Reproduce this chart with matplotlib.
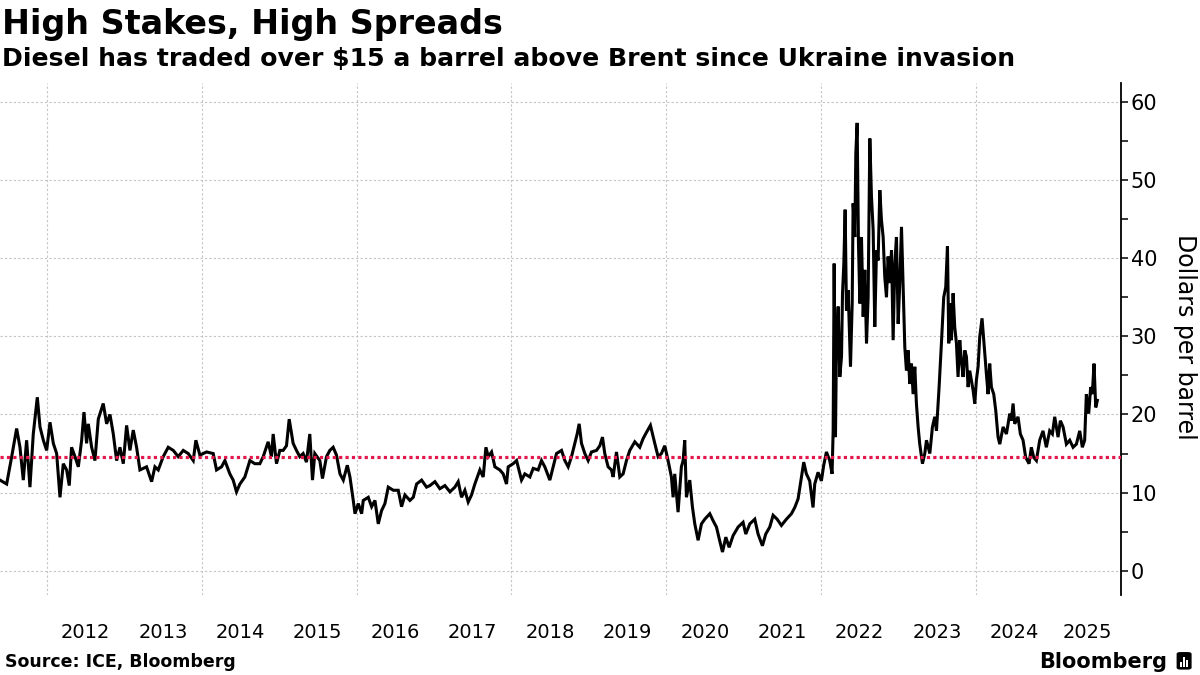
import matplotlib
matplotlib.use("Agg")
import matplotlib.pyplot as plt
from matplotlib.ticker import MultipleLocator, FixedLocator, NullFormatter, FixedFormatter
from matplotlib.patches import FancyBboxPatch, Rectangle

# ---- data (decimal year, $/bbl) ----
dates = [
    2011.393, 2011.479, 2011.544, 2011.608, 2011.651, 2011.694, 2011.737, 2011.780, 2011.823, 2011.875,
    2011.910, 2011.953, 2011.996, 2012.039, 2012.082, 2012.125, 2012.168, 2012.211, 2012.254, 2012.288,
    2012.318, 2012.362, 2012.405, 2012.448, 2012.478, 2012.512, 2012.534, 2012.577, 2012.620, 2012.663,
    2012.727, 2012.771, 2012.814, 2012.857, 2012.900, 2012.943, 2012.986, 2013.029, 2013.072, 2013.115,
    2013.158, 2013.201, 2013.287, 2013.352, 2013.395, 2013.438, 2013.502, 2013.567, 2013.632, 2013.696,
    2013.761, 2013.825, 2013.890, 2013.924, 2013.976, 2014.062, 2014.148, 2014.191, 2014.256, 2014.299,
    2014.363, 2014.406, 2014.449, 2014.493, 2014.557, 2014.622, 2014.686, 2014.751, 2014.794, 2014.858,
    2014.901, 2014.923, 2014.966, 2015.009, 2015.052, 2015.095, 2015.130, 2015.181, 2015.224, 2015.267,
    2015.310, 2015.353, 2015.396, 2015.431, 2015.461, 2015.526, 2015.560, 2015.612, 2015.655, 2015.698,
    2015.741,
    2015.786, 2015.829, 2015.881, 2015.915, 2015.958, 2015.980, 2016.023, 2016.066, 2016.087, 2016.152,
    2016.195, 2016.238, 2016.281, 2016.324, 2016.367, 2016.410, 2016.475, 2016.539, 2016.582, 2016.625,
    2016.690, 2016.733, 2016.776, 2016.841, 2016.905, 2016.948, 2017.013, 2017.077, 2017.142, 2017.207,
    2017.271, 2017.314, 2017.357, 2017.400, 2017.443, 2017.486, 2017.529, 2017.594, 2017.637, 2017.672,
    2017.702, 2017.745, 2017.788, 2017.852, 2017.895, 2017.938, 2017.960, 2018.024, 2018.068, 2018.132,
    2018.175, 2018.240, 2018.283, 2018.347, 2018.390, 2018.433, 2018.498, 2018.541, 2018.584, 2018.649,
    2018.692, 2018.735, 2018.778, 2018.821, 2018.851, 2018.877, 2018.907, 2018.950, 2018.993, 2019.036,
    2019.101, 2019.144, 2019.178, 2019.208, 2019.251, 2019.294, 2019.316, 2019.359, 2019.402, 2019.445,
    2019.488, 2019.531, 2019.596, 2019.660, 2019.703, 2019.746, 2019.798, 2019.854, 2019.897, 2019.940,
    2019.983, 2020.026, 2020.069, 2020.091, 2020.112, 2020.155, 2020.198, 2020.220, 2020.241, 2020.263,
    2020.306, 2020.340, 2020.371, 2020.414,
    2020.457, 2020.500, 2020.565, 2020.608, 2020.651, 2020.694, 2020.729, 2020.772, 2020.815, 2020.866,
    2020.931, 2020.995, 2021.030, 2021.082, 2021.146, 2021.189, 2021.245, 2021.288, 2021.340, 2021.383,
    2021.435, 2021.490, 2021.555, 2021.620, 2021.663, 2021.706, 2021.749, 2021.779, 2021.813, 2021.856,
    2021.899, 2021.921, 2021.964, 2022.007, 2022.037, 2022.072, 2022.115, 2022.145,
    2022.159, 2022.172, 2022.189, 2022.202, 2022.224, 2022.245, 2022.267, 2022.280, 2022.297, 2022.314,
    2022.331, 2022.353, 2022.383, 2022.405, 2022.417, 2022.439, 2022.452, 2022.469, 2022.486, 2022.504,
    2022.525, 2022.547, 2022.568, 2022.590, 2022.611, 2022.633, 2022.654, 2022.676, 2022.697, 2022.719,
    2022.740, 2022.762, 2022.783, 2022.805, 2022.826, 2022.848, 2022.869, 2022.891, 2022.913, 2022.934,
    2022.956, 2022.977, 2022.999, 2023.020, 2023.042, 2023.063, 2023.085, 2023.106, 2023.128, 2023.149,
    2023.171, 2023.192, 2023.214, 2023.235, 2023.257, 2023.278, 2023.313, 2023.343, 2023.365, 2023.408,
    2023.442, 2023.472, 2023.494, 2023.528, 2023.558, 2023.588, 2023.614, 2023.636, 2023.653,
    2023.666, 2023.687, 2023.709, 2023.730, 2023.752, 2023.773, 2023.795, 2023.816, 2023.838, 2023.860,
    2023.881, 2023.903, 2023.924, 2023.967, 2023.989, 2024.010, 2024.032, 2024.053, 2024.083, 2024.118,
    2024.139, 2024.161, 2024.182, 2024.204, 2024.234, 2024.260, 2024.290, 2024.312, 2024.355, 2024.398,
    2024.441, 2024.462, 2024.484, 2024.505, 2024.548, 2024.578, 2024.613, 2024.647, 2024.690, 2024.720,
    2024.751, 2024.785, 2024.828, 2024.871, 2024.914, 2024.957, 2024.992, 2025.022, 2025.065, 2025.095,
    2025.130, 2025.173, 2025.216, 2025.259, 2025.302, 2025.345, 2025.379, 2025.409, 2025.431, 2025.461,
    2025.487, 2025.508, 2025.530, 2025.552, 2025.573,
]
spread = [
    11.6, 11.1, 14.6, 18.2, 15.8, 11.6, 16.7, 10.7, 17.5, 22.2,
    18.4, 16.7, 15.4, 19.0, 16.3, 15.0, 9.4, 13.7, 12.9, 10.9,
    15.8, 14.6, 13.3, 16.7, 20.3, 16.3, 18.8, 15.8, 14.1, 19.4,
    21.4, 18.8, 20.0, 17.5, 14.1, 15.8, 13.7, 18.6, 15.4, 18.0,
    15.8, 12.9, 13.3, 11.4, 13.3, 12.9, 14.6, 15.8, 15.4, 14.6,
    15.4, 15.0, 14.1, 16.7, 14.8, 15.2, 15.0, 12.9, 13.3, 14.1,
    12.4, 11.6, 10.1, 11.1, 12.0, 14.1, 13.7, 13.7, 14.6, 16.5,
    14.6, 17.5, 13.7, 15.4, 15.4, 16.0, 19.4, 16.3, 15.4, 14.6,
    15.0, 13.9, 17.5, 11.6, 15.0, 14.1, 11.8, 14.6, 15.4, 15.8,
    14.8,
    12.4, 11.6, 13.5, 12.0, 9.0, 7.3, 8.6, 7.3, 9.0, 9.4,
    8.2, 9.0, 6.0, 7.7, 8.6, 10.7, 10.3, 10.3, 8.2, 9.7,
    9.0, 9.4, 11.1, 11.6, 10.7, 10.9, 11.4, 10.5, 10.9, 10.1,
    10.7, 11.4, 9.4, 10.3, 8.8, 9.7, 11.1, 12.9, 12.0, 15.8,
    14.6, 15.2, 13.3, 12.9, 12.4, 11.1, 13.3, 13.7, 14.1, 11.6,
    12.4, 12.0, 13.1, 12.9, 14.1, 13.3, 11.6, 13.3, 15.0, 15.4,
    14.1, 13.3, 14.6, 16.3, 17.5, 18.8, 16.3, 15.0, 14.1, 15.2,
    15.4, 16.0, 17.1, 15.0, 13.3, 12.9, 12.0, 15.2, 12.0, 12.4,
    14.1, 15.4, 16.5, 15.8, 16.9, 17.7, 18.6, 16.3, 14.6, 15.0,
    16.0, 14.1, 12.0, 9.4, 12.4, 7.5, 13.3, 14.1, 16.7, 9.4,
    11.6, 8.2, 6.0, 3.9,
    6.0, 6.6, 7.3, 6.4, 5.6, 3.8, 2.4, 4.3, 3.0, 4.5,
    5.6, 6.2, 4.7, 6.0, 6.6, 4.7, 3.2, 4.7, 5.6, 7.1,
    6.6, 5.8, 6.6, 7.3, 8.1, 9.2, 12.0, 13.9, 12.4, 11.5,
    8.1, 11.1, 12.6, 11.5, 13.5, 15.2, 14.1, 12.4,
    17.9, 39.3, 17.1, 29.1, 33.8, 24.8, 27.4, 35.5, 39.3, 46.2,
    33.3, 35.9, 26.1, 34.2, 47.0, 42.7, 53.4, 57.3, 41.9, 34.2,
    42.7, 32.5, 38.5, 29.1, 35.0, 55.3, 47.9, 43.6, 31.2, 41.0,
    39.7, 48.7, 44.9, 42.7, 37.6, 35.0, 40.2, 36.8, 41.0, 29.5,
    39.3, 42.7, 31.6, 36.8, 44.0, 36.3, 28.6, 25.6, 28.2, 23.9,
    26.5, 22.6, 26.1, 21.4, 18.4, 16.2, 13.7, 15.0, 16.7, 15.0,
    18.4, 19.7, 17.9, 23.5, 29.1, 35.0, 36.3, 41.5, 29.1,
    34.2, 29.5, 35.5, 31.2, 29.1, 24.8, 29.5, 26.9, 24.8, 28.2,
    27.4, 23.5, 25.6, 23.1, 21.4, 24.4, 26.1, 29.9, 32.3, 27.8,
    25.2, 22.6, 26.5, 23.5, 22.6, 20.5, 17.1, 16.2, 18.4, 17.5,
    20.1, 19.2, 21.4, 18.8, 19.7, 17.5, 16.7, 14.5, 13.7, 15.8,
    14.5, 14.1, 16.7, 17.9, 15.8, 17.9, 17.5, 19.7, 17.1, 19.2,
    18.4, 16.2, 16.7, 15.8, 16.2, 17.9, 15.8, 16.7, 22.6, 20.1,
    23.5, 22.6, 26.5, 20.9, 21.8,
]
reference_level = 14.6

year_labels = [str(y) for y in range(2012, 2026)]
year_label_pos = [y + 0.5 for y in range(2012, 2025)] + [2025.44]
grid_years = list(range(2012, 2025, 2))
y_major = list(range(0, 61, 10))

title = "High Stakes, High Spreads"
subtitle = "Diesel has traded over $15 a barrel above Brent since Ukraine invasion"
source = "Source: ICE, Bloomberg"
ylabel = "Dollars per barrel"

# ---- figure ----
fig = plt.figure(figsize=(12, 6.75), dpi=100)
ax = fig.add_axes([0.0, 0.1185, 0.934, 0.7585])

ax.plot(dates, spread, color="black", lw=2.2, solid_joinstyle="miter", zorder=3)
ax.axhline(reference_level, color="#e3174b", lw=2.3, ls=(0, (1, 1)), zorder=4)

ax.set_xlim(2011.393, 2025.876)
ax.set_ylim(-3.1, 62.4)

for s in ("left", "top", "bottom"):
    ax.spines[s].set_visible(False)
ax.spines["right"].set_linewidth(1.3)
ax.spines["right"].set_color("black")

ax.yaxis.tick_right()
ax.yaxis.set_major_locator(FixedLocator(y_major))
ax.yaxis.set_minor_locator(MultipleLocator(5))
ax.tick_params(axis="y", which="both", direction="out", length=5, width=1.1,
               color="black", labelsize=15, pad=2)

ax.xaxis.set_major_locator(FixedLocator(grid_years))
ax.xaxis.set_major_formatter(NullFormatter())
ax.xaxis.set_minor_locator(FixedLocator(year_label_pos))
ax.xaxis.set_minor_formatter(FixedFormatter(year_labels))
ax.tick_params(axis="x", which="both", length=0, pad=20, labelsize=14)

ax.grid(True, which="major", color="#c4c4c4", lw=0.8, ls=(0, (2, 2)))
ax.set_axisbelow(True)

fig.text(0.002, 0.988, title, fontsize=24, fontweight="bold", va="top", ha="left",
         family="DejaVu Sans")
fig.text(0.002, 0.930, subtitle, fontsize=18.1, fontweight="bold", va="top", ha="left",
         family="DejaVu Sans")
fig.text(0.9875, 0.5007, ylabel, rotation=-90, fontsize=17, va="center", ha="center",
         family="DejaVu Sans")
fig.text(0.004, 0.019, source, fontsize=12.5, fontweight="bold", va="center", ha="left",
         family="DejaVu Sans")
fig.text(0.973, 0.019, "Bloomberg", fontsize=15, fontweight="bold", va="center", ha="right",
         family="DejaVu Sans")

# small logo mark
icon = FancyBboxPatch((0.9805, 0.008), 0.0125, 0.026, boxstyle="round,pad=0.0,rounding_size=0.003",
                      transform=fig.transFigure, facecolor="black", edgecolor="none")
fig.patches.append(icon)
for dx, h in [(0.0030, 0.008), (0.0055, 0.014), (0.0080, 0.010)]:
    fig.patches.append(Rectangle((0.9805 + dx, 0.012), 0.0012, h, transform=fig.transFigure,
                                 facecolor="white", edgecolor="none"))

fig.savefig("out.png", dpi=100)
